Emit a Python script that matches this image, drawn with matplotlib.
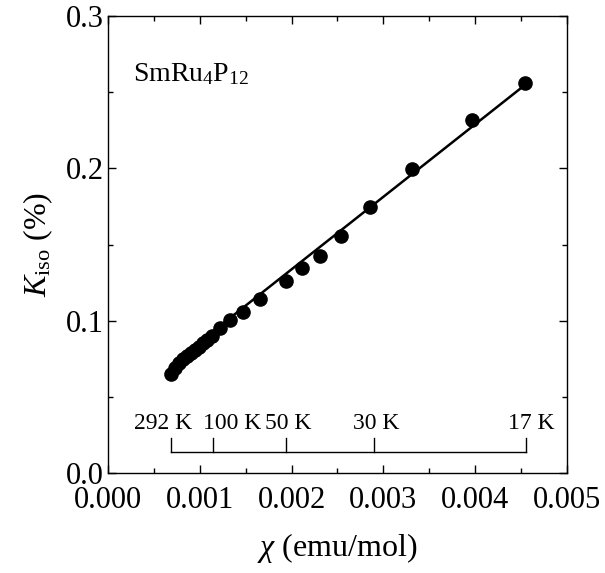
import matplotlib
matplotlib.use('Agg')
import matplotlib.pyplot as plt
import numpy as np
from matplotlib.ticker import MultipleLocator, FormatStrFormatter

plt.rcParams['font.family'] = ['Liberation Serif', 'DejaVu Serif']
plt.rcParams['mathtext.fontset'] = 'custom'
plt.rcParams['mathtext.rm'] = 'Liberation Serif'
plt.rcParams['mathtext.it'] = 'Liberation Serif:italic'

# chi (emu/mol) vs K_iso (%) for SmRu4P12
chi = [0.000686, 0.000730, 0.000773, 0.000817, 0.000861, 0.000904, 0.000948,
       0.000991, 0.001035, 0.001078, 0.001133, 0.001220, 0.001329, 0.001471,
       0.001656, 0.001939, 0.002113, 0.002309, 0.002538, 0.002854, 0.003312,
       0.003965, 0.004543]
k_iso = [0.0650, 0.0689, 0.0722, 0.0749, 0.0768, 0.0788, 0.0808,
         0.0827, 0.0854, 0.0873, 0.0900, 0.0952, 0.1005, 0.1057,
         0.1142, 0.1261, 0.1346, 0.1425, 0.1556, 0.1747, 0.1996,
         0.2318, 0.2561]

# linear fit
fit_slope = 47.6
fit_icept = 0.0385
fit_range = [0.00070, 0.00455]

# temperature scale along chi
temp_labels = ['292 K', '100 K', '50 K', '30 K', '17 K']
temp_chi = [0.000686, 0.001144, 0.001939, 0.002898, 0.004553]
temp_text_x = [0.000599, 0.001351, 0.001961, 0.002919, 0.004608]

fig = plt.figure(figsize=(6.05, 5.73), dpi=100)
ax = fig.add_axes([0.1785, 0.1745, 0.7585, 0.7975])

xf = np.array(fit_range)
ax.plot(xf, fit_icept + fit_slope * xf, color='k', lw=1.8, zorder=2)
ax.plot(chi, k_iso, 'o', color='k', ms=9.5, zorder=3)

# temperature bar
bar_y, tick_top = 0.0138, 0.023
ax.plot([temp_chi[0], temp_chi[-1]], [bar_y, bar_y], color='k', lw=1.0)
for xc, xt, lab in zip(temp_chi, temp_text_x, temp_labels):
    ax.plot([xc, xc], [bar_y, tick_top], color='k', lw=1.0)
    ax.text(xt, 0.0255, lab, ha='center', va='bottom', fontsize=17)

ax.text(0.00027, 0.262, r'SmRu$_4$P$_{12}$', fontsize=20, ha='left', va='center')

ax.set_xlim(0, 0.005)
ax.set_ylim(0, 0.3)
ax.xaxis.set_major_locator(MultipleLocator(0.001))
ax.xaxis.set_minor_locator(MultipleLocator(0.0005))
ax.yaxis.set_major_locator(MultipleLocator(0.1))
ax.yaxis.set_minor_locator(MultipleLocator(0.05))
ax.xaxis.set_major_formatter(FormatStrFormatter('%.3f'))
ax.yaxis.set_major_formatter(FormatStrFormatter('%.1f'))
ax.tick_params(which='both', direction='in', top=True, right=True, width=1.0)
ax.tick_params(which='major', length=6, labelsize=22, pad=3)
ax.tick_params(axis='x', which='major', pad=9)
ax.tick_params(which='minor', length=3.5)
for s in ax.spines.values():
    s.set_linewidth(1.0)

ax.set_xlabel(r'$\chi$ (emu/mol)', fontsize=23, labelpad=12)
ax.set_ylabel(r'$K_{\rm iso}$ (%)', fontsize=23, labelpad=8)

fig.savefig('out.png', dpi=100)
